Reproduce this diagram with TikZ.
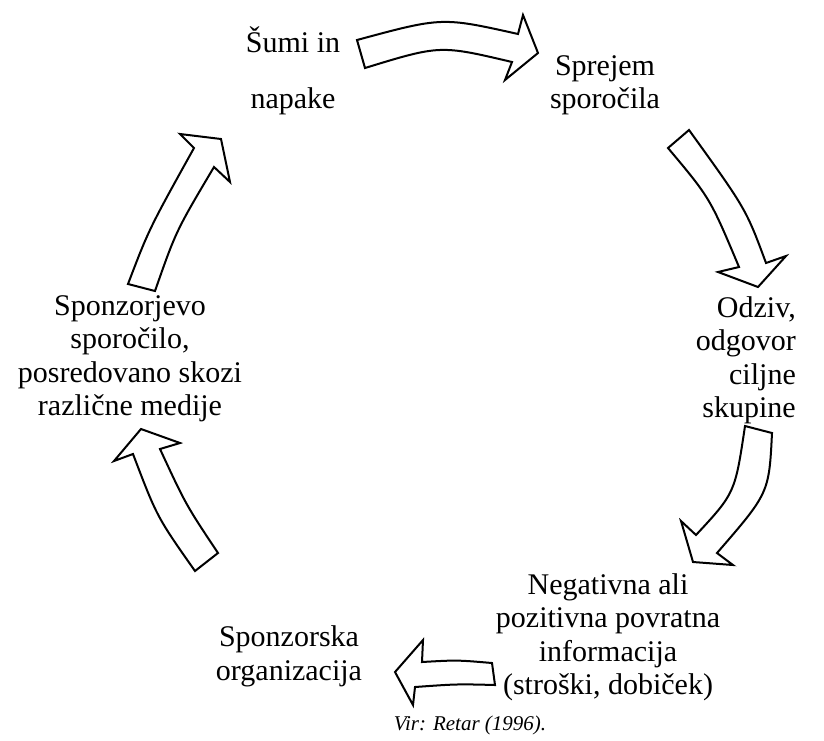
\documentclass[tikz,border=0pt]{standalone}
\usepackage{fontspec}
\setmainfont{Liberation Serif}
\begin{document}
\begin{tikzpicture}[x=1pt,y=-1pt,
  lbl/.style={inner sep=0pt, align=center, anchor=base, font=\fontsize{30}{33.5}\selectfont},
  blockarrow/.style={draw=black, fill=white, line width=2pt, line join=miter}]
\useasboundingbox (0,0) rectangle (824,740);

% labels (positions = baseline of last line)
\node[lbl, font=\fontsize{30}{56}\selectfont] (sumi) at (293,108) {Šumi in\\napake};
\node[lbl] (sprejem) at (605,108.5) {Sprejem\\sporočila};
\node[lbl, align=right, anchor=base east] (odziv) at (796,417.5) {Odziv,\\odgovor\\ciljne\\skupine};
\node[lbl] (negativna) at (608,694.5) {Negativna ali\\pozitivna povratna\\informacija\\(stroški, dobiček)};
\node[lbl] (sponzorska) at (289,680) {Sponzorska\\organizacija};
\node[lbl] (sporocilo) at (130,415.5) {Sponzorjevo\\sporočilo,\\posredovano skozi\\različne medije};
\node[lbl, font=\fontsize{21}{24}\selectfont\itshape] (vir) at (470,730) {Vir: Retar (1996).};

% arrow 1 (top, pointing right)
\draw[blockarrow] (357,40) .. controls (442,17) .. (518,34) -- (523,15) -- (538,53)
  -- (505,80) -- (512,62) .. controls (440,45) .. (365,68) -- cycle;
% arrow 2 (top right, pointing down)
\draw[blockarrow] (689,130) .. controls (746,209) .. (766,263) -- (786,256) -- (758,287)
  -- (718,272) -- (739,267) .. controls (710,198) .. (668,148) -- cycle;
% arrow 3 (right, pointing down-left)
\draw[blockarrow] (772,433) .. controls (769,493) .. (717,553) -- (733,565) -- (693,562)
  -- (681,521) -- (696,535) .. controls (735,493) .. (745,426) -- cycle;
% arrow 4 (bottom, pointing left)
\draw[blockarrow] (492,663) .. controls (457,660) .. (422,662) -- (423,640) -- (395,672)
  -- (413,705) -- (415,687) .. controls (457,684) .. (495,685) -- cycle;
% arrow 5 (bottom left, pointing up)
\draw[blockarrow] (195,571) .. controls (157,517) .. (133,454) -- (114,461) -- (141,429)
  -- (180,443) -- (160,449) .. controls (186,505) .. (218,553) -- cycle;
% arrow 6 (top left, pointing up-right)
\draw[blockarrow] (128,284) .. controls (149,229) .. (194,148) -- (180,134) -- (221,139)
  -- (230,182) -- (214,167) .. controls (176,231) .. (155,291) -- cycle;
\end{tikzpicture}
\end{document}
